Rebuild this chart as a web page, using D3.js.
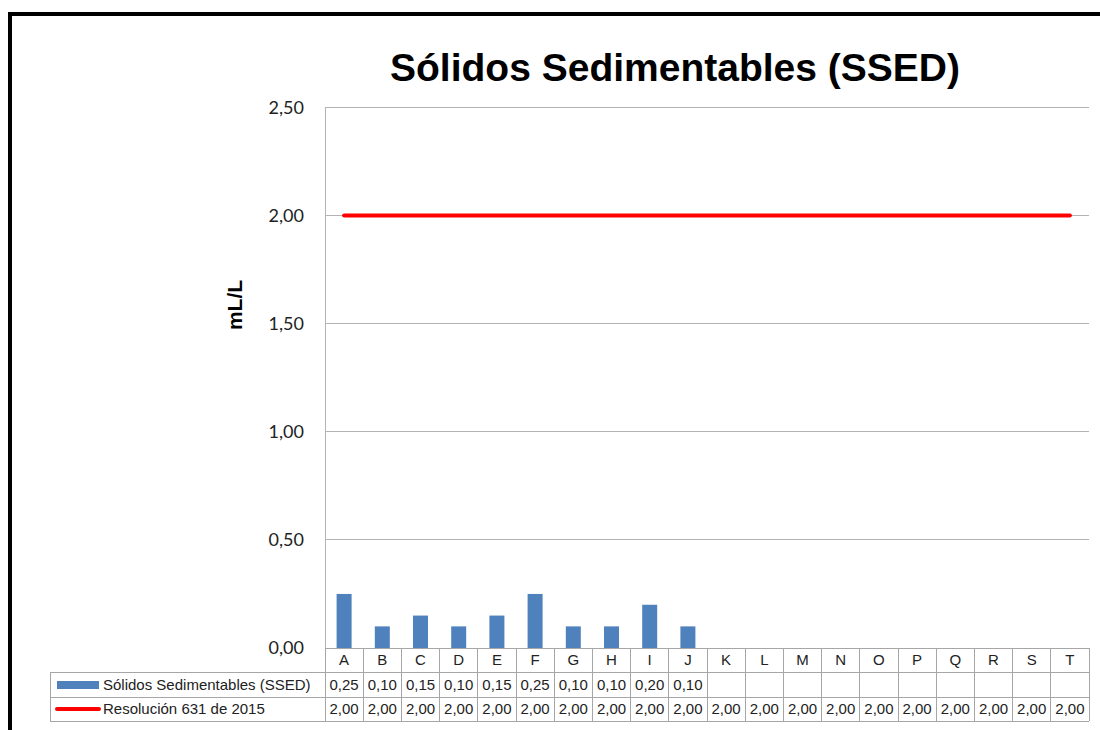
<!DOCTYPE html>
<html><head><meta charset="utf-8">
<script src="https://cdn.jsdelivr.net/npm/d3@7/dist/d3.min.js"></script>
<style>body{margin:0;background:#fff}svg{display:block}</style>
</head><body>
<script>
const categories = ["A","B","C","D","E","F","G","H","I","J","K","L","M","N","O","P","Q","R","S","T"];
const ssed = [0.25,0.10,0.15,0.10,0.15,0.25,0.10,0.10,0.20,0.10,null,null,null,null,null,null,null,null,null,null];
const limite = [2,2,2,2,2,2,2,2,2,2,2,2,2,2,2,2,2,2,2,2];
const yTicks = [0,0.5,1,1.5,2,2.5];
const seriesNames = ["Sólidos Sedimentables (SSED)","Resolución 631 de 2015"];
const title = "Sólidos Sedimentables (SSED)";
const yLabel = "mL/L";

const W=1100,H=730;
const svg=d3.select("body").append("svg").attr("width",W).attr("height",H);
// outer border
svg.append("rect").attr("x",10).attr("y",14).attr("width",W+20).attr("height",H+20)
  .attr("fill","none").attr("stroke","#000").attr("stroke-width",4);

const L=325,R=1089,T=107.5,B=648;
const x=d3.scaleBand().domain(categories).range([L,R]);
const y=d3.scaleLinear().domain([0,2.5]).range([B,T]);
const fmt=v=>d3.format(".2f")(v).replace(".",",");

// grid
svg.append("g").selectAll("line").data(yTicks).join("line")
  .attr("x1",L).attr("x2",R).attr("y1",d=>y(d)).attr("y2",d=>y(d))
  .attr("stroke","#b3b3b3").attr("stroke-width",1).attr("shape-rendering","crispEdges");
svg.append("line").attr("x1",L).attr("x2",L).attr("y1",T).attr("y2",B)
  .attr("stroke","#b3b3b3").attr("shape-rendering","crispEdges");
// tick labels
svg.append("g").selectAll("text").data(yTicks).join("text")
  .attr("x",L-21).attr("y",d=>y(d)).attr("dy","0.35em").attr("text-anchor","end")
  .attr("font-family","Lato, 'Open Sans', sans-serif").attr("font-size",18).attr("fill","#222")
  .text(fmt);
// title
svg.append("text").attr("x",675).attr("y",81).attr("text-anchor","middle")
  .attr("font-family","'Liberation Sans', Arial, sans-serif").attr("font-weight","bold").attr("font-size",39)
  .text(title);
// y label
svg.append("text").attr("transform","translate(242,305) rotate(-90)").attr("text-anchor","middle")
  .attr("font-family","'Liberation Sans', Arial, sans-serif").attr("font-weight","bold").attr("font-size",21)
  .text(yLabel);

// bars
const bw=15;
svg.append("g").selectAll("rect").data(categories.map((c,i)=>({c,v:ssed[i]})).filter(d=>d.v!=null)).join("rect")
  .attr("x",d=>x(d.c)+x.bandwidth()/2-bw/2).attr("width",bw)
  .attr("y",d=>y(d.v)).attr("height",d=>B-y(d.v)).attr("fill","#4f81bd");
// line
const line=d3.line().x((d,i)=>x(categories[i])+x.bandwidth()/2).y(d=>y(d));
svg.append("path").attr("d",line(limite)).attr("fill","none").attr("stroke","#ff0000").attr("stroke-width",4).attr("stroke-linecap","round");

// data table
const r0=B,r1=672,r2=697,r3=721,TL=50;
const g=svg.append("g").attr("stroke","#a6a6a6").attr("stroke-width",1).attr("shape-rendering","crispEdges");
[r1,r2,r3].forEach(yy=>g.append("line").attr("x1",TL).attr("x2",R).attr("y1",yy).attr("y2",yy));
g.append("line").attr("x1",L).attr("x2",R).attr("y1",r0).attr("y2",r0);
g.append("line").attr("x1",TL).attr("x2",TL).attr("y1",r1).attr("y2",r3);
categories.forEach(c=>g.append("line").attr("x1",x(c)).attr("x2",x(c)).attr("y1",r0).attr("y2",r3));
g.append("line").attr("x1",R).attr("x2",R).attr("y1",r0).attr("y2",r3);

const tf="'Liberation Sans', Arial, sans-serif";
const tg=svg.append("g").attr("font-family",tf).attr("font-size",15).attr("fill","#222").attr("text-anchor","middle");
categories.forEach((c,i)=>{
  const cx=x(c)+x.bandwidth()/2;
  tg.append("text").attr("x",cx).attr("y",(r0+r1)/2).attr("dy","0.36em").text(c);
  if(ssed[i]!=null) tg.append("text").attr("x",cx).attr("y",(r1+r2)/2).attr("dy","0.36em").text(fmt(ssed[i]));
  tg.append("text").attr("x",cx).attr("y",(r2+r3)/2).attr("dy","0.36em").text(fmt(limite[i]));
});
// legend keys
svg.append("rect").attr("x",57).attr("y",681).attr("width",42).attr("height",8).attr("fill","#4f81bd");
svg.append("line").attr("x1",57).attr("x2",99).attr("y1",709).attr("y2",709).attr("stroke","#ff0000").attr("stroke-width",4).attr("stroke-linecap","round");
tg.append("text").attr("x",103).attr("y",(r1+r2)/2).attr("dy","0.36em").attr("text-anchor","start").text(seriesNames[0]);
tg.append("text").attr("x",103).attr("y",(r2+r3)/2).attr("dy","0.36em").attr("text-anchor","start").text(seriesNames[1]);
</script>
</body></html>
